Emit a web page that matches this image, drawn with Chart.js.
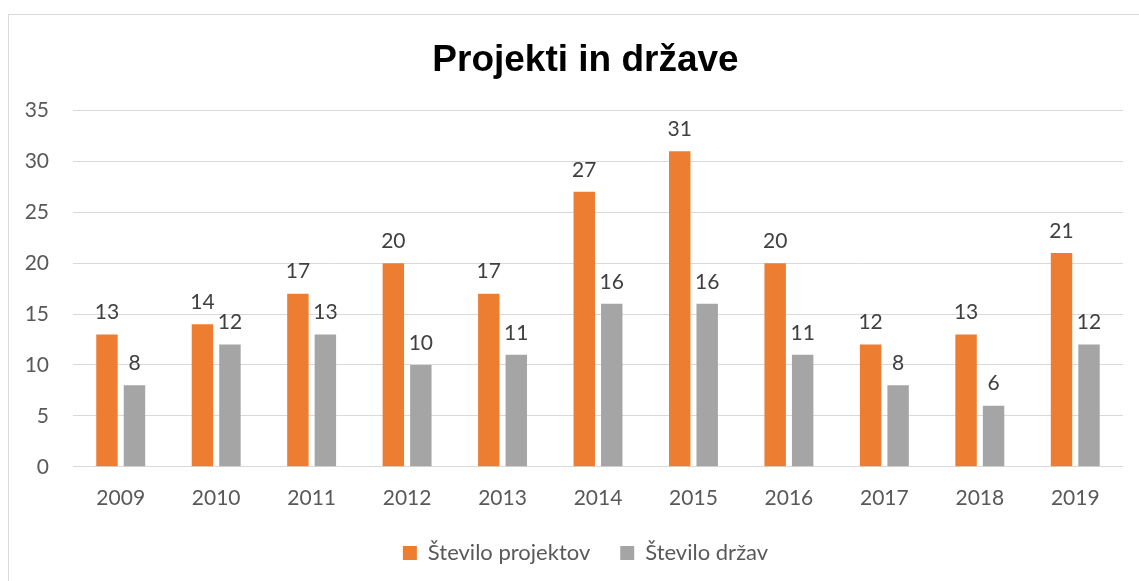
<!DOCTYPE html>
<html>
<head>
<meta charset="utf-8">
<script src="https://cdn.jsdelivr.net/npm/chart.js@4"></script>
<style>
    html, body { margin: 0; padding: 0; background: #fff; overflow: hidden; }
    #frame {
        position: absolute; left: 8px; top: 14px;
        width: 1300px; height: 700px;
        border: 1px solid #d9d9d9; box-sizing: border-box;
    }
    #wrap { position: absolute; left: 0; top: 0; width: 1139px; height: 581px; }
</style>
</head>
<body>
<div id="frame"></div>
<div id="wrap"><canvas id="chart"></canvas></div>
<script>
const years = [`2009`, `2010`, `2011`, `2012`, `2013`, `2014`, `2015`, `2016`, `2017`, `2018`, `2019`];
const projekti = [13, 14, 17, 20, 17, 27, 31, 20, 12, 13, 21];
const drzave = [8, 12, 13, 10, 11, 16, 16, 11, 8, 6, 12];
const yTicks = [0, 5, 10, 15, 20, 25, 30, 35];

const textFont = `Lato, 'Open Sans', sans-serif`;

// values written above each bar
const barLabels = {
    id: `barLabels`,
    afterDatasetsDraw(chart) {
        const ctx = chart.ctx;
        ctx.save();
        ctx.font = `21px ${textFont}`;
        ctx.fillStyle = `#404040`;
        ctx.textAlign = `center`;
        ctx.textBaseline = `middle`;
        chart.data.datasets.forEach((ds, i) => {
            chart.getDatasetMeta(i).data.forEach((bar, j) => {
                ctx.fillText(`${ds.data[j]}`, bar.x, bar.y - 22);
            });
        });
        ctx.restore();
    }
};

// y tick labels sit in the left padding, where the scale would clip them
const yLabels = {
    id: `yLabels`,
    afterDraw(chart) {
        const ctx = chart.ctx;
        const y = chart.scales.y;
        ctx.save();
        ctx.font = `21px ${textFont}`;
        ctx.fillStyle = `#595959`;
        ctx.textAlign = `right`;
        ctx.textBaseline = `middle`;
        yTicks.forEach(v => {
            ctx.fillText(`${v}`, y.right - 24, y.getPixelForValue(v));
        });
        ctx.restore();
    }
};

const ctx = document.querySelector(`#chart`).getContext(`2d`);
const myChart = new Chart(ctx, {
    type: `bar`,
    data: {
        labels: years,
        datasets: [
            {
                label: `Število projektov`,
                data: projekti,
                backgroundColor: `#ED7D31`,
                categoryPercentage: 0.576,
                barPercentage: 0.78
            },
            {
                label: `Število držav`,
                data: drzave,
                backgroundColor: `#A5A5A5`,
                categoryPercentage: 0.576,
                barPercentage: 0.78
            }
        ]
    },
    options: {
        responsive: true,
        maintainAspectRatio: false,
        animation: false,
        layout: {
            padding: { left: 48, right: 16, top: 0, bottom: 7 }
        },
        scales: {
            x: {
                // legend padding is wide, so the axis gives back some height
                afterFit(scale) {
                    scale.height = scale.height - 18;
                },
                grid: { display: false, drawTicks: false },
                border: { display: false },
                ticks: {
                    color: `#595959`,
                    font: { family: textFont, size: 21 },
                    padding: 19
                }
            },
            y: {
                min: 0,
                max: 35,
                afterBuildTicks(scale) {
                    scale.ticks = yTicks.map(v => ({ value: v }));
                },
                afterFit(scale) {
                    scale.width = 25;
                },
                grid: { color: `#D9D9D9`, lineWidth: 1, drawTicks: false },
                border: { display: false },
                ticks: { display: false }
            }
        },
        plugins: {
            title: {
                display: true,
                text: `Projekti in države`,
                color: `#000000`,
                font: { family: `'Liberation Sans', Arial, sans-serif`, size: 37, weight: `bold` },
                padding: { top: 39, bottom: 27 }
            },
            legend: {
                position: `bottom`,
                labels: {
                    color: `#595959`,
                    font: { family: textFont, size: 22 },
                    boxWidth: 14,
                    boxHeight: 14,
                    padding: 30
                }
            },
            tooltip: { enabled: false }
        }
    },
    plugins: [barLabels, yLabels]
});
</script>
</body>
</html>
